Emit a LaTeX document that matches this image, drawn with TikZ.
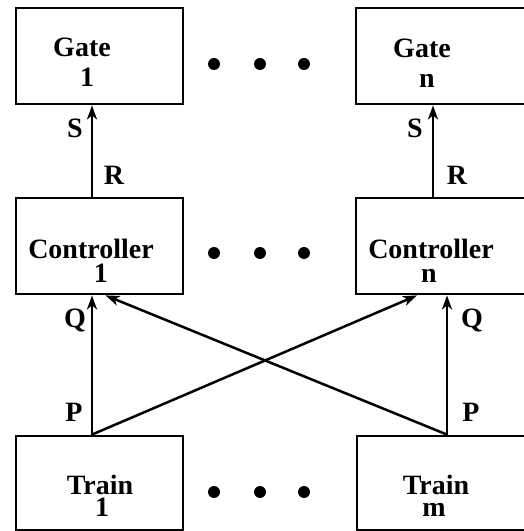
\documentclass[tikz,border=0pt]{standalone}
\usepackage{fontspec}
\setmainfont{Liberation Serif}
\usetikzlibrary{arrows.meta}

\begin{document}
\begin{tikzpicture}[x=1pt,y=1pt,
  box/.style={draw, line width=2.8pt, minimum height=96pt, inner sep=0pt},
  txt/.style={font=\fontsize{28}{30}\selectfont\bfseries, anchor=base, inner sep=0pt},
  boxtext/.style={txt, align=center},
  link/.style={line width=2.5pt, -{Stealth[length=14pt,width=10pt,inset=4pt]}},
  dot/.style={circle, fill, inner sep=0pt, minimum size=12pt}]
\useasboundingbox (0,0) rectangle (523,531);

% boxes
\node[box, minimum width=167pt] (g1) at (99.5,475) {};
\node[box, minimum width=170pt] (gn) at (441,475) {};
\node[box, minimum width=167pt] (c1) at (99.5,285) {};
\node[box, minimum width=170pt] (cn) at (441,285) {};
\node[box, minimum width=167pt, minimum height=94pt] (t1) at (99.5,48) {};
\node[box, minimum width=169pt, minimum height=94pt] (tm) at (441.5,48) {};

% box texts (two lines each; the base anchor sits on the second line)
\node[boxtext] (g1t) at (82,444) {Gate\\\hspace*{10pt}1};
\node[boxtext] (gnt) at (422,443) {Gate\\\hspace*{10pt}n};
\node[boxtext] (c1t) at (91,248) {Controller\\[-6pt]\hspace*{20pt}1};
\node[boxtext] (cnt) at (431,248) {Controller\\[-6pt]n\hspace*{4pt}};
\node[boxtext] (t1t) at (100,14) {Train\\[-8pt]\hspace*{4pt}1};
\node[boxtext] (tmt) at (436,14) {Train\\[-8pt]m\hspace*{4pt}};

% ellipsis dots
\foreach \y/\r in {467/g, 278/c, 39/t}{
  \node[dot] (\r d1) at (214,\y) {};
  \node[dot] (\r d2) at (260,\y) {};
  \node[dot] (\r d3) at (304,\y) {};
}

% connectors
\draw[link] ([xshift=-7.5pt]c1.north) -- ([xshift=-7.5pt]g1.south);
\draw[link] ([xshift=-8pt]cn.north) -- ([xshift=-8pt]gn.south);
\draw[link] ([xshift=-7.5pt]t1.north) -- ([xshift=-7.5pt]c1.south);
\draw[link] ([xshift=5.5pt]tm.north) -- ([xshift=6pt]cn.south);
\draw[link] ([xshift=-7.5pt]t1.north) -- ([xshift=-24pt]cn.south);
\draw[link] ([xshift=5.5pt]tm.north) -- ([xshift=6pt]c1.south);

% port labels
\node[txt] (s1) at (75,393) {S};
\node[txt] (r1) at (114,346) {R};
\node[txt] (sn) at (415,393) {S};
\node[txt] (rn) at (457,346) {R};
\node[txt] (q1) at (75,203) {Q};
\node[txt] (qn) at (472,203) {Q};
\node[txt] (p1) at (74,109) {P};
\node[txt] (pn) at (471,109) {P};
\end{tikzpicture}
\end{document}
